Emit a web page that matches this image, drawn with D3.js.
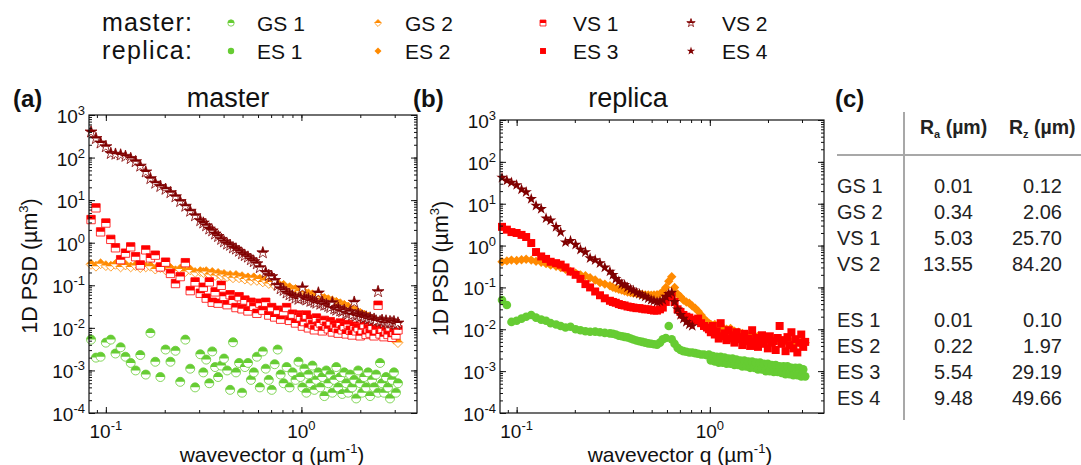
<!DOCTYPE html>
<html>
<head>
<meta charset="utf-8">
<script src="https://cdn.jsdelivr.net/npm/d3@7"></script>
<style>
  body { margin: 0; background: #fff; }
  svg { display: block; font-family: "Liberation Sans", Arial, sans-serif; }
</style>
</head>
<body>
<div id="chart"></div>
<script>
// wavevector grid q (µm^-1), shared by every series
const qGrid = [
  0.084, 0.089, 0.094, 0.100, 0.106, 0.112, 0.119, 0.126, 0.134, 0.142, 0.150, 0.160,
  0.169, 0.179, 0.190, 0.202, 0.214, 0.227, 0.240, 0.255, 0.270, 0.286, 0.304,
  0.315, 0.326, 0.338, 0.350, 0.362, 0.375, 0.389, 0.402, 0.417, 0.432, 0.447, 0.463,
  0.480, 0.497, 0.514, 0.533, 0.552, 0.571, 0.592, 0.613, 0.635, 0.657, 0.681, 0.705,
  0.730, 0.756, 0.783, 0.811, 0.840, 0.870, 0.901, 0.933, 0.966,
  0.989, 1.012, 1.036, 1.061, 1.086, 1.112, 1.138, 1.165, 1.193, 1.221, 1.250, 1.280,
  1.310, 1.341, 1.373, 1.405, 1.439, 1.473, 1.508, 1.543, 1.580, 1.617, 1.656, 1.695,
  1.735, 1.776, 1.818, 1.862, 1.906, 1.951, 1.997, 2.044, 2.093, 2.143, 2.193, 2.245,
  2.298, 2.353, 2.409, 2.466, 2.524, 2.584, 2.645, 2.708, 2.772, 2.838, 2.905, 2.974,
  3.044, 3.117
];

// (a) master, 1D PSD (µm^3)
const gs1 = [
  0.0053, 0.002, 0.0021, 0.0045, 0.0053, 0.0025, 0.0035, 0.0021, 0.0015, 0.001,
  0.0023, 0.0008, 0.0076, 0.0016, 0.0007, 0.0031, 0.0016, 0.0029, 0.00054, 0.0053,
  0.0011, 0.0004, 0.0024,
  0.0009, 0.0018, 0.0005, 0.0028, 0.0012, 0.0007, 0.0013, 0.0019, 0.001, 0.00035,
  0.0046, 0.0009, 0.0015, 0.0003, 0.0012, 0.0015, 0.0006, 0.0009, 0.0021, 0.0004,
  0.0028, 0.0011, 0.0006, 0.00035, 0.0014, 0.0031, 0.0008, 0.0005, 0.0012, 0.0004,
  0.0009, 0.0006, 0.0016,
  0.0007, 0.0004, 0.0011, 0.0003, 0.0008, 0.0005, 0.0013, 0.00035, 0.0006, 0.0009,
  0.0004, 0.0007, 0.00025, 0.001, 0.0005, 0.0008, 0.0003, 0.0006, 0.0012, 0.0004,
  0.0007, 0.00028, 0.0009, 0.0005, 0.0003, 0.0008, 0.0004, 0.0006, 0.00022, 0.001,
  0.0005, 0.0003, 0.0007, 0.0004, 0.0009, 0.00025, 0.0006, 0.0004, 0.0008, 0.0003,
  0.0015, 0.0005, 0.0003, 0.0007, 0.0004, 0.00022, 0.0006, 0.0009, 0.0003, 0.0005
];
const gs2 = [
  0.31, 0.28, 0.32, 0.29, 0.28, 0.31, 0.27, 0.30, 0.27, 0.29,
  0.26, 0.27, 0.28, 0.24, 0.26, 0.23, 0.25, 0.22, 0.24, 0.21,
  0.23, 0.2, 0.21,
  0.20, 0.21, 0.18, 0.2, 0.17, 0.19, 0.17, 0.18, 0.16, 0.17,
  0.15, 0.17, 0.15, 0.16, 0.14, 0.15, 0.13, 0.15, 0.13, 0.14,
  0.12, 0.13, 0.11, 0.12, 0.10, 0.11, 0.095, 0.1, 0.085, 0.088,
  0.078, 0.08, 0.07,
  0.072, 0.065, 0.068, 0.06, 0.063, 0.056, 0.06, 0.053, 0.056, 0.05,
  0.052, 0.046, 0.049, 0.043, 0.046, 0.04, 0.043, 0.037, 0.04, 0.034,
  0.037, 0.031, 0.034, 0.029, 0.031, 0.026, 0.028, 0.024, 0.025, 0.021,
  0.022, 0.019, 0.02, 0.017, 0.018, 0.015, 0.016, 0.013, 0.014, 0.011,
  0.012, 0.0095, 0.0098, 0.008, 0.0082, 0.0066, 0.0068, 0.0054, 0.0052, 0.0045
];
const vs1 = [
  3.5, 6.6, 1.8, 2.9, 1.2, 0.76, 0.4, 0.57, 0.8, 0.47,
  0.3, 0.68, 0.44, 0.51, 0.27, 0.35, 0.19, 0.11, 0.16, 0.34,
  0.075, 0.12, 0.065,
  0.09, 0.05, 0.12, 0.04, 0.07, 0.038, 0.1, 0.055, 0.035, 0.06,
  0.045, 0.03, 0.054, 0.028, 0.045, 0.025, 0.04, 0.032, 0.022, 0.038,
  0.026, 0.04, 0.02, 0.03, 0.018, 0.026, 0.016, 0.024, 0.03, 0.015,
  0.021, 0.013, 0.02,
  0.018, 0.011, 0.014, 0.02, 0.01, 0.016, 0.012, 0.009, 0.017, 0.011,
  0.013, 0.0085, 0.015, 0.011, 0.0095, 0.014, 0.008, 0.012, 0.01, 0.0075,
  0.013, 0.009, 0.011, 0.0072, 0.012, 0.0088, 0.0068, 0.011, 0.0085, 0.01,
  0.0065, 0.009, 0.012, 0.007, 0.0095, 0.0075, 0.011, 0.0065, 0.009, 0.034,
  0.0072, 0.0095, 0.0062, 0.0085, 0.007, 0.0105, 0.006, 0.008, 0.0068, 0.009
];
const vs2 = [
  400, 280, 220, 180, 125, 120, 115, 107, 95, 80,
  63, 46, 32, 25, 21, 18, 15, 12, 9.3, 7.2,
  5.5, 4.3, 3.3,
  2.9, 2.5, 2.1, 1.9, 1.6, 1.4, 1.2, 1.05, 0.93, 0.87,
  0.76, 0.71, 0.63, 0.55, 0.5, 0.46, 0.4, 0.36, 0.32, 0.26,
  0.58, 0.2, 0.17, 0.16, 0.13, 0.1, 0.083, 0.076, 0.066, 0.06,
  0.056, 0.05, 0.047,
  0.052, 0.087, 0.05, 0.045, 0.048, 0.042, 0.044, 0.04, 0.038, 0.066,
  0.036, 0.04, 0.034, 0.035, 0.032, 0.03, 0.039, 0.028, 0.026, 0.029,
  0.025, 0.024, 0.026, 0.022, 0.021, 0.024, 0.02, 0.04, 0.019, 0.021,
  0.018, 0.019, 0.017, 0.018, 0.016, 0.017, 0.015, 0.016, 0.0145, 0.071,
  0.014, 0.015, 0.013, 0.0145, 0.0126, 0.014, 0.013, 0.014, 0.012, 0.013
];

// (b) replica, 1D PSD (µm^3)
const es1 = [
  0.05, 0.038, 0.015, 0.016, 0.018, 0.02, 0.022, 0.019, 0.017, 0.016,
  0.014, 0.013, 0.012, 0.011, 0.0115, 0.01, 0.0095, 0.009, 0.0087, 0.0088,
  0.0085, 0.0082, 0.008,
  0.0078, 0.0075, 0.007, 0.0068, 0.0066, 0.0064, 0.006, 0.0057, 0.0054, 0.0052,
  0.005, 0.0048, 0.0046, 0.0045, 0.0044, 0.0043, 0.0048, 0.0058, 0.0062, 0.012,
  0.0058, 0.0045, 0.0036, 0.0032, 0.003, 0.0029, 0.0028, 0.0028, 0.0027, 0.0026,
  0.0025, 0.0025, 0.0024,
  0.0025, 0.0018, 0.0023, 0.0017, 0.0022, 0.0016, 0.0022, 0.0016, 0.0021, 0.0015,
  0.002, 0.0015, 0.002, 0.0014, 0.0019, 0.0014, 0.0018, 0.0013, 0.0018, 0.0013,
  0.0017, 0.0012, 0.0017, 0.0012, 0.0016, 0.0011, 0.0016, 0.0011, 0.0015, 0.001,
  0.0015, 0.001, 0.0014, 0.00095, 0.0014, 0.00095, 0.0013, 0.0009, 0.0013, 0.00085,
  0.0013, 0.00085, 0.0012, 0.0008, 0.0012, 0.0008, 0.0012, 0.00075, 0.0011, 0.00075
];
const es2 = [
  0.41, 0.43, 0.45, 0.44, 0.46, 0.47, 0.45, 0.42, 0.4, 0.37,
  0.34, 0.32, 0.3, 0.27, 0.24, 0.22, 0.2, 0.19, 0.17, 0.15,
  0.13, 0.12, 0.11,
  0.1, 0.095, 0.09, 0.086, 0.082, 0.078, 0.075, 0.073, 0.072, 0.07,
  0.068, 0.066, 0.066, 0.065, 0.066, 0.067, 0.07, 0.08, 0.1, 0.14,
  0.18, 0.1, 0.07, 0.06, 0.05, 0.045, 0.042, 0.036, 0.032, 0.027,
  0.022, 0.018, 0.015,
  0.014, 0.013, 0.012, 0.013, 0.011, 0.012, 0.01, 0.011, 0.0095, 0.01,
  0.009, 0.0105, 0.0085, 0.009, 0.008, 0.0085, 0.0078, 0.008, 0.0072, 0.0075,
  0.007, 0.0072, 0.0068, 0.007, 0.0065, 0.0068, 0.0062, 0.0065, 0.006, 0.0062,
  0.0058, 0.006, 0.0056, 0.0058, 0.0055, 0.0056, 0.0053, 0.0055, 0.0052, 0.0054,
  0.005, 0.0052, 0.0049, 0.0051, 0.0048, 0.005, 0.0047, 0.0049, 0.0046, 0.0048
];
const es3 = [
  2.8, 2.4, 2.1, 2.0, 1.8, 1.6, 1.15, 0.7, 0.55, 0.48,
  0.41, 0.38, 0.35, 0.3, 0.24, 0.2, 0.16, 0.12, 0.1, 0.08,
  0.065, 0.055, 0.048,
  0.045, 0.043, 0.04, 0.038, 0.037, 0.035, 0.034, 0.033, 0.032, 0.032,
  0.031, 0.03, 0.03, 0.029, 0.028, 0.028, 0.03, 0.033, 0.045, 0.06,
  0.066, 0.045, 0.03, 0.026, 0.022, 0.02, 0.019, 0.017, 0.016, 0.018,
  0.014, 0.012, 0.011,
  0.01, 0.0085, 0.012, 0.0075, 0.009, 0.006, 0.014, 0.0068, 0.008, 0.0055,
  0.0095, 0.006, 0.0072, 0.0048, 0.0085, 0.0058, 0.0065, 0.0042, 0.0078, 0.0052,
  0.006, 0.004, 0.0095, 0.005, 0.0062, 0.0038, 0.0055, 0.0072, 0.0045, 0.0058,
  0.0035, 0.0068, 0.0048, 0.0052, 0.0032, 0.0062, 0.012, 0.0045, 0.0055, 0.003,
  0.0065, 0.0042, 0.0085, 0.0035, 0.0058, 0.0028, 0.0048, 0.0075, 0.0038, 0.005
];
const es4 = [
  42, 36, 32, 28, 22, 19, 13, 9, 7.5, 4.5,
  4, 2.8, 2.1, 1.2, 1.3, 1.05, 0.8, 0.7, 0.5, 0.45,
  0.38, 0.3, 0.24,
  0.2, 0.16, 0.14, 0.12, 0.115, 0.1, 0.09, 0.085, 0.075, 0.07,
  0.065, 0.06, 0.055, 0.05, 0.048, 0.045, 0.046, 0.05, 0.06, 0.07,
  0.075, 0.045, 0.03, 0.022, 0.018, 0.015, 0.013, 0.012
];

const masterNames = ["GS 1", "GS 2", "VS 1", "VS 2"];
const replicaNames = ["ES 1", "ES 2", "ES 3", "ES 4"];

// table (c)
const tableSamples = ["GS 1", "GS 2", "VS 1", "VS 2", "ES 1", "ES 2", "ES 3", "ES 4"];
const tableRa = [0.01, 0.34, 5.03, 13.55, 0.01, 0.22, 5.54, 9.48];
const tableRz = [0.12, 2.06, 25.70, 84.20, 0.10, 1.97, 29.19, 49.66];

const qDomain = [0.082, 3.9];
const psdDomain = [1e-4, 1e3];
const decadesX = [0.1, 1];
const decadesY = [1e-4, 1e-3, 1e-2, 1e-1, 1, 10, 100, 1000];

const colors = ["#66cc33", "#ff8a00", "#ff0000", "#800000"];
const diamond = {
  draw(ctx, size) {
    const r = Math.sqrt(size / 2);
    ctx.moveTo(0, -r); ctx.lineTo(r, 0); ctx.lineTo(0, r); ctx.lineTo(-r, 0); ctx.closePath();
  }
};
const shapes = [d3.symbolCircle, diamond, d3.symbolSquare, d3.symbolStar];
const sizes = [58, 44, 64, 40];

const width = 1081, height = 465;
const svg = d3.select("#chart").append("svg")
  .attr("width", width).attr("height", height)
  .attr("viewBox", `0 0 ${width} ${height}`);

svg.append("defs").append("clipPath").attr("id", "tophalf")
  .append("rect").attr("x", -10).attr("y", -10).attr("width", 20).attr("height", 10);

function drawMarker(sel, k, half, scale) {
  const p = d3.symbol().type(shapes[k]).size(sizes[k] * (scale || 1))();
  if (half) {
    sel.append("path").attr("d", p).attr("fill", "#fff")
      .attr("stroke", colors[k]).attr("stroke-width", 0.8);
    sel.append("path").attr("d", p).attr("fill", colors[k]).attr("clip-path", "url(#tophalf)");
  } else {
    sel.append("path").attr("d", p).attr("fill", colors[k]);
  }
}

function pow10(sel, exp) {
  sel.append("tspan").text("10");
  sel.append("tspan").attr("font-size", 13).attr("dy", -8).text(exp);
}

function drawPanel(box, tag, tagX, title, series, half, titleX, xlabX) {
  const x = d3.scaleLog().domain(qDomain).range([box.left, box.right]);
  const y = d3.scaleLog().domain(psdDomain).range([box.bottom, box.top]);
  const g = svg.append("g");

  series.forEach((vals, k) => {
    const pts = vals.map((v, i) => [qGrid[i], v]);
    g.append("g").selectAll("g").data(pts).join("g")
      .attr("transform", d => `translate(${x(d[0])},${y(d[1])})`)
      .call(sel => drawMarker(sel, k, half, half ? 1.1 : 1));
  });

  // ticks inward on all four sides
  const axes = [
    [d3.axisBottom(x), `translate(0,${box.bottom})`, x.ticks(), decadesX],
    [d3.axisTop(x), `translate(0,${box.top})`, x.ticks(), decadesX],
    [d3.axisLeft(y), `translate(${box.left},0)`, y.ticks(), decadesY],
    [d3.axisRight(y), `translate(${box.right},0)`, y.ticks(), decadesY]
  ];
  axes.forEach(([ax, tr, minor, major]) => {
    g.append("g").attr("transform", tr)
      .call(ax.tickValues(minor).tickSize(-3).tickSizeOuter(0).tickFormat(""))
      .call(a => a.select(".domain").remove());
    g.append("g").attr("transform", tr)
      .call(ax.tickValues(major).tickSize(-6).tickSizeOuter(0).tickFormat(""))
      .call(a => a.select(".domain").remove());
  });
  g.selectAll(".tick line").attr("stroke", "#111");

  g.append("rect")
    .attr("x", box.left).attr("y", box.top)
    .attr("width", box.right - box.left).attr("height", box.bottom - box.top)
    .attr("fill", "none").attr("stroke", "#111").attr("stroke-width", 1.2);

  // tick labels
  decadesY.forEach(v => {
    g.append("text").attr("x", box.left - 4).attr("y", y(v) + 8)
      .attr("text-anchor", "end").attr("font-size", 19).attr("fill", "#111")
      .call(t => pow10(t, String(Math.round(Math.log10(v)))));
  });
  decadesX.forEach(v => {
    g.append("text").attr("x", x(v)).attr("y", 438)
      .attr("text-anchor", "middle").attr("font-size", 19).attr("fill", "#111")
      .call(t => pow10(t, String(Math.round(Math.log10(v)))));
  });

  // axis titles
  const yl = g.append("text")
    .attr("transform", `translate(${box.left - 52},${(box.top + box.bottom) / 2 + 2}) rotate(-90)`)
    .attr("text-anchor", "middle").attr("font-size", 21.5).attr("fill", "#111");
  yl.append("tspan").text("1D PSD (µm");
  yl.append("tspan").attr("font-size", 13).attr("dy", -9).text("3");
  yl.append("tspan").attr("dy", 9).text(")");

  const xl = g.append("text").attr("x", xlabX).attr("y", 462)
    .attr("text-anchor", "middle").attr("font-size", 21).attr("fill", "#111");
  xl.append("tspan").text("wavevector q (µm");
  xl.append("tspan").attr("font-size", 13).attr("dy", -9).text("-1");
  xl.append("tspan").attr("dy", 9).text(")");

  g.append("text").attr("x", titleX).attr("y", 107).attr("text-anchor", "middle")
    .attr("font-size", 27).attr("fill", "#111").text(title);
  g.append("text").attr("x", tagX).attr("y", 107)
    .attr("font-size", 24).attr("font-weight", "bold").attr("fill", "#111").text(tag);
}

drawPanel({ left: 89, right: 417, top: 115, bottom: 413 }, "(a)", 13, "master",
  [gs1, gs2, vs1, vs2], true, 228, 272);
drawPanel({ left: 500, right: 824, top: 120, bottom: 413 }, "(b)", 413, "replica",
  [es1, es2, es3, es4], false, 628, 680);

// legend
const legend = svg.append("g");
[["master:", masterNames, true, 31, 23], ["replica:", replicaNames, false, 59, 51]]
  .forEach(([head, names, half, base, my]) => {
    legend.append("text").attr("x", 102).attr("y", base)
      .attr("font-size", 25).attr("textLength", 90).attr("fill", "#111").text(head);
    const markX = [231, 378, 543, 691];
    const textX = [257, 405, 573, 722];
    names.forEach((name, k) => {
      legend.append("g").attr("transform", `translate(${markX[k]},${my})`)
        .call(sel => drawMarker(sel, k, half, 0.55));
      legend.append("text").attr("x", textX[k]).attr("y", base)
        .attr("font-size", 21).attr("fill", "#111").text(name);
    });
  });

// table (c)
const tab = svg.append("g").attr("fill", "#222");
tab.append("text").attr("x", 835).attr("y", 107).attr("font-size", 24)
  .attr("font-weight", "bold").attr("fill", "#111").text("(c)");
tab.append("line").attr("x1", 904).attr("x2", 904).attr("y1", 112).attr("y2", 420)
  .attr("stroke", "#a8a8a8").attr("stroke-width", 2);
tab.append("line").attr("x1", 837).attr("x2", 1081).attr("y1", 155).attr("y2", 155)
  .attr("stroke", "#a8a8a8").attr("stroke-width", 2);
[["a", 920], ["z", 1009]].forEach(([s, hx]) => {
  const t = tab.append("text").attr("x", hx).attr("y", 134)
    .attr("font-size", 19.5).attr("font-weight", "bold");
  t.append("tspan").text("R");
  t.append("tspan").attr("font-size", 11).attr("dy", 4).text(s);
  t.append("tspan").attr("dy", -4).text(" (µm)");
});
tableSamples.forEach((name, i) => {
  const yy = i < 4 ? 193 + 26 * i : 327 + 26 * (i - 4);
  tab.append("text").attr("x", 837).attr("y", yy).attr("font-size", 20).text(name);
  tab.append("text").attr("x", 973).attr("y", yy).attr("font-size", 20)
    .attr("text-anchor", "end").text(tableRa[i].toFixed(2));
  tab.append("text").attr("x", 1062).attr("y", yy).attr("font-size", 20)
    .attr("text-anchor", "end").text(tableRz[i].toFixed(2));
});
</script>
</body>
</html>
